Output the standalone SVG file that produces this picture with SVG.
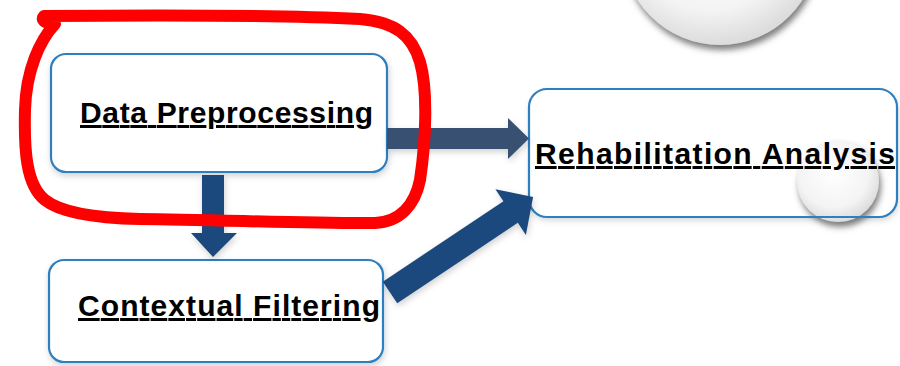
<svg xmlns="http://www.w3.org/2000/svg" width="900" height="366" viewBox="0 0 900 366">
  <defs>
    <style>
      .box { fill: #ffffff; stroke: #2e7fc0; stroke-width: 2.2; }
      .label { font-family: "Liberation Sans", Arial, sans-serif; font-weight: bold; font-size: 30px; fill: #000000; text-decoration: underline; text-decoration-thickness: 3px; text-underline-offset: 4px; }
      .arrowA { fill: #1f497d; }
      .arrowB { fill: #375173; }
      .ink { fill: none; stroke: #ff0000; stroke-width: 12; stroke-linecap: round; stroke-linejoin: round; }
      .bubble { fill: url(#bubbleGrad); filter: url(#bubbleShadow); }
    </style>
    <radialGradient id="bubbleGrad" cx="0.45" cy="0.4" r="0.6">
      <stop offset="0" stop-color="#ffffff"/>
      <stop offset="0.7" stop-color="#f4f4f4"/>
      <stop offset="1" stop-color="#dcdcdc"/>
    </radialGradient>
    <filter id="bubbleShadow" x="-30%" y="-30%" width="160%" height="160%">
      <feDropShadow dx="2" dy="5" stdDeviation="3" flood-color="#555555" flood-opacity="0.75"/>
    </filter>
    <filter id="softShadow" x="-10%" y="-10%" width="120%" height="130%">
      <feDropShadow dx="1" dy="3" stdDeviation="3" flood-color="#000000" flood-opacity="0.18"/>
    </filter>
  </defs>

  <rect width="900" height="366" fill="#ffffff"/>

  <!-- decorative bubble at top -->
  <circle class="bubble" cx="720" cy="-53" r="98"/>

  <g id="node-data-preprocessing">
    <rect class="box" x="51" y="54" width="336" height="118" rx="15" filter="url(#softShadow)"/>
    <text class="label" x="80" y="123" textLength="293" lengthAdjust="spacing">Data Preprocessing</text>
  </g>

  <g id="node-rehabilitation-analysis">
    <rect x="529" y="89" width="368" height="128" rx="18" fill="#ffffff" filter="url(#softShadow)"/>
    <circle class="bubble" cx="838" cy="181" r="41"/>
    <rect x="529" y="89" width="368" height="128" rx="18" fill="none" stroke="#2e7fc0" stroke-width="2.2"/>
    <text class="label" x="535" y="164" textLength="360" lengthAdjust="spacing">Rehabilitation Analysis</text>
  </g>

  <g id="node-contextual-filtering">
    <rect class="box" x="49" y="260" width="334" height="102" rx="15" filter="url(#softShadow)"/>
    <text class="label" x="78" y="316" textLength="302" lengthAdjust="spacing">Contextual Filtering</text>
  </g>

  <g id="connectors" filter="url(#softShadow)">
    <!-- Data Preprocessing -> Rehabilitation Analysis -->
    <polygon class="arrowB" points="387,128 508,128 508,118 529,138.5 508,159 508,149 387,149"/>
    <!-- Data Preprocessing -> Contextual Filtering -->
    <polygon class="arrowA" points="202,175 224,175 224,233 237,233 213,257 191,233 202,233"/>
    <!-- Contextual Filtering -> Rehabilitation Analysis -->
    <polygon class="arrowA" transform="translate(390,292.5) rotate(-33.7)" points="0,-13 145,-13 145,-27.5 172,0 145,27.5 145,13 0,13"/>
  </g>

  <!-- hand-drawn red annotation loop -->
  <path class="ink" d="M 55,24 C 40,40 26,70 25,110 C 24,150 26,185 45,200 C 60,212 90,218 140,219 C 220,220 330,224 375,223 C 400,222 415,205 420,180 C 426,140 428,90 420,62 C 412,35 395,22 360,19 C 280,15 150,15 44,16 C 40,20 46,24 55,24"/>
</svg>
